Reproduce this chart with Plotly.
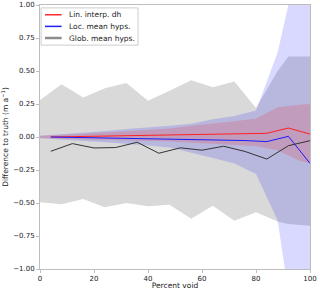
import plotly.graph_objects as go

# Line series (x at bin centres)
x_lines = [4, 12, 20, 28, 36, 44, 52, 60, 68, 76, 84, 92, 100]
lin_interp = [0.0, 0.003, 0.005, 0.008, 0.01, 0.013, 0.018, 0.022, 0.025, 0.028, 0.028, 0.068, 0.022]
loc_mean = [0.0, -0.003, -0.005, -0.008, -0.01, -0.012, -0.015, -0.018, -0.02, -0.027, -0.035, 0.005, -0.2]
glob_mean = [-0.108, -0.05, -0.083, -0.08, -0.04, -0.123, -0.082, -0.1, -0.07, -0.11, -0.167, -0.066, -0.028]

# Bands
x_gray = [0, 8, 16, 24, 32, 40, 48, 56, 64, 72, 80, 88, 92, 100]
gray_up = [0.28, 0.40, 0.30, 0.37, 0.41, 0.275, 0.35, 0.43, 0.376, 0.42, 0.22, 0.5, 0.61, 0.61]
gray_lo = [-0.495, -0.51, -0.47, -0.533, -0.5, -0.525, -0.513, -0.62, -0.52, -0.634, -0.57, -0.64, -0.66, -0.672]

x_band = [0, 8, 16, 24, 32, 40, 48, 56, 64, 72, 80, 88, 96, 100]
blue_up = [0.01, 0.02, 0.03, 0.045, 0.06, 0.07, 0.085, 0.1, 0.135, 0.16, 0.2, 0.64, 1.36, 1.6]
blue_lo = [-0.01, -0.02, -0.03, -0.04, -0.05, -0.065, -0.08, -0.12, -0.16, -0.2, -0.28, -0.63, -1.73, -1.9]
red_up = [0.01, 0.015, 0.025, 0.035, 0.045, 0.055, 0.065, 0.085, 0.1, 0.12, 0.14, 0.225, 0.245, 0.25]
red_lo = [-0.01, -0.01, -0.015, -0.02, -0.025, -0.03, -0.035, -0.045, -0.05, -0.06, -0.07, -0.1, -0.18, -0.2]

x_ticks = [0, 20, 40, 60, 80, 100]
y_ticks = [-1.0, -0.75, -0.5, -0.25, 0.0, 0.25, 0.5, 0.75, 1.0]

legend_names = ["Lin. interp. dh", "Loc. mean hyps.", "Glob. mean hyps."]
legend_colors = ["#ff3030", "#2020ff", "#8c8c8c"]
legend_widths = [1.5, 1.5, 2.5]

FONT = "DejaVu Sans"


def band(x, lo, up, color):
    return go.Scatter(x=list(x) + list(x)[::-1], y=list(up) + list(lo)[::-1],
                      fill="toself", fillcolor=color, mode="lines",
                      line=dict(width=0), showlegend=False, hoverinfo="skip")


fig = go.Figure()
fig.add_trace(band(x_gray, gray_lo, gray_up, "rgba(128,128,128,0.3)"))
fig.add_trace(band(x_band, blue_lo, blue_up, "rgba(0,0,255,0.15)"))
fig.add_trace(band(x_band, red_lo, red_up, "rgba(255,0,0,0.15)"))

fig.add_trace(go.Scatter(x=x_lines, y=lin_interp, mode="lines", name=legend_names[0],
                         line=dict(color="#ff2020", width=1), showlegend=False))
fig.add_trace(go.Scatter(x=x_lines, y=loc_mean, mode="lines", name=legend_names[1],
                         line=dict(color="#1a1aff", width=1), showlegend=False))
fig.add_trace(go.Scatter(x=x_lines, y=glob_mean, mode="lines", name=legend_names[2],
                         line=dict(color="#333333", width=1), showlegend=False))

# Compact legend box (matplotlib style), in plot-area paper coordinates
fig.add_shape(type="rect", xref="paper", yref="paper", x0=0.004, x1=0.363, y0=0.848, y1=0.989,
              line=dict(color="#cccccc", width=1), fillcolor="rgba(255,255,255,0.8)", layer="above")
leg_y = [0.963, 0.919, 0.875]
for name, col, w, yy in zip(legend_names, legend_colors, legend_widths, leg_y):
    fig.add_shape(type="line", xref="paper", yref="paper", x0=0.0185, x1=0.080, y0=yy, y1=yy,
                  line=dict(color=col, width=w), layer="above")
    fig.add_annotation(xref="paper", yref="paper", x=0.099, y=yy, text=name, showarrow=False,
                       xanchor="left", yanchor="middle", font=dict(family=FONT, size=7.5, color="#222"))

axis_common = dict(showgrid=False, zeroline=False, showline=True, mirror=True,
                   linecolor="#bdbdbd", linewidth=1, ticks="outside", ticklen=3,
                   tickcolor="#bdbdbd", tickfont=dict(family=FONT, size=7, color="#222"))

fig.update_layout(
    width=320, height=290,
    margin=dict(l=40, r=10, t=5, b=21),
    paper_bgcolor="white", plot_bgcolor="white",
    font=dict(family=FONT, size=7.5, color="#222"),
    showlegend=False, hovermode=False,
    xaxis=dict(range=[0, 100], tickvals=x_ticks,
               title=dict(text="Percent void", font=dict(size=7.5), standoff=0),
               automargin=False, **axis_common),
    yaxis=dict(range=[-1, 1], tickvals=y_ticks, tickformat=".2f",
               title=dict(text="Difference to truth (m a<sup>−1</sup>)", font=dict(size=7.5), standoff=4),
               automargin=False, **axis_common),
)

fig.write_html("out.html", config={"displayModeBar": False, "staticPlot": True},
               post_script="document.body.style.margin='0';document.body.style.overflow='hidden';")
